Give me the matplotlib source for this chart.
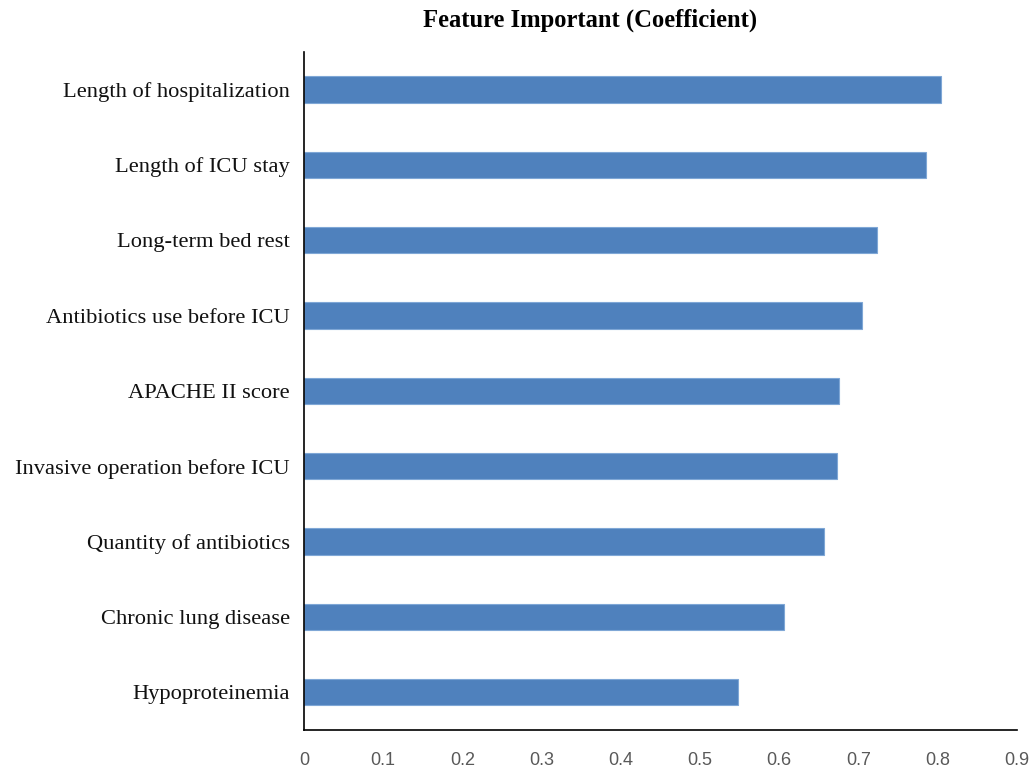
import matplotlib
matplotlib.use("Agg")
import matplotlib.pyplot as plt

features = [
    "Length of hospitalization",
    "Length of ICU stay",
    "Long-term bed rest",
    "Antibiotics use before ICU",
    "APACHE II score",
    "Invasive operation before ICU",
    "Quantity of antibiotics",
    "Chronic lung disease",
    "Hypoproteinemia",
]
coefs = [0.804, 0.785, 0.723, 0.704, 0.675, 0.673, 0.656, 0.606, 0.548]
xticks = [0, 0.1, 0.2, 0.3, 0.4, 0.5, 0.6, 0.7, 0.8, 0.9]

fig = plt.figure(figsize=(10.33, 7.70), dpi=100)
ax = fig.add_axes([0.2943, 0.052, 0.690, 0.8805])

# plot bottom-up so first feature lands on top
ypos = list(range(len(features)))[::-1]
ax.barh(ypos, coefs, height=0.35, color="#4F81BD", edgecolor="#7FA7D6", linewidth=0.8)

ax.set_xlim(0, 0.9)
ax.set_ylim(-0.5, 8.5)
ax.set_yticks(ypos)
ax.set_yticklabels(features, family="Liberation Serif", fontsize=16.2, color="#111111")
ax.set_xticks(xticks)
ax.set_xticklabels([f"{t:g}" for t in xticks],
                   family=["Liberation Sans Narrow", "Liberation Sans"],
                   fontsize=13, color="#595959")
ax.tick_params(axis="both", length=0)
ax.tick_params(axis="x", pad=16)
ax.tick_params(axis="y", pad=10)

for side in ("top", "right"):
    ax.spines[side].set_visible(False)
for side in ("left", "bottom"):
    ax.spines[side].set_linewidth(1.2)
    ax.spines[side].set_color("black")

fig.text(0.571, 0.974, "Feature Important (Coefficient)", ha="center", va="center",
         family="Liberation Serif", fontweight="bold", fontsize=17.7)

fig.savefig("out.png", dpi=100)
